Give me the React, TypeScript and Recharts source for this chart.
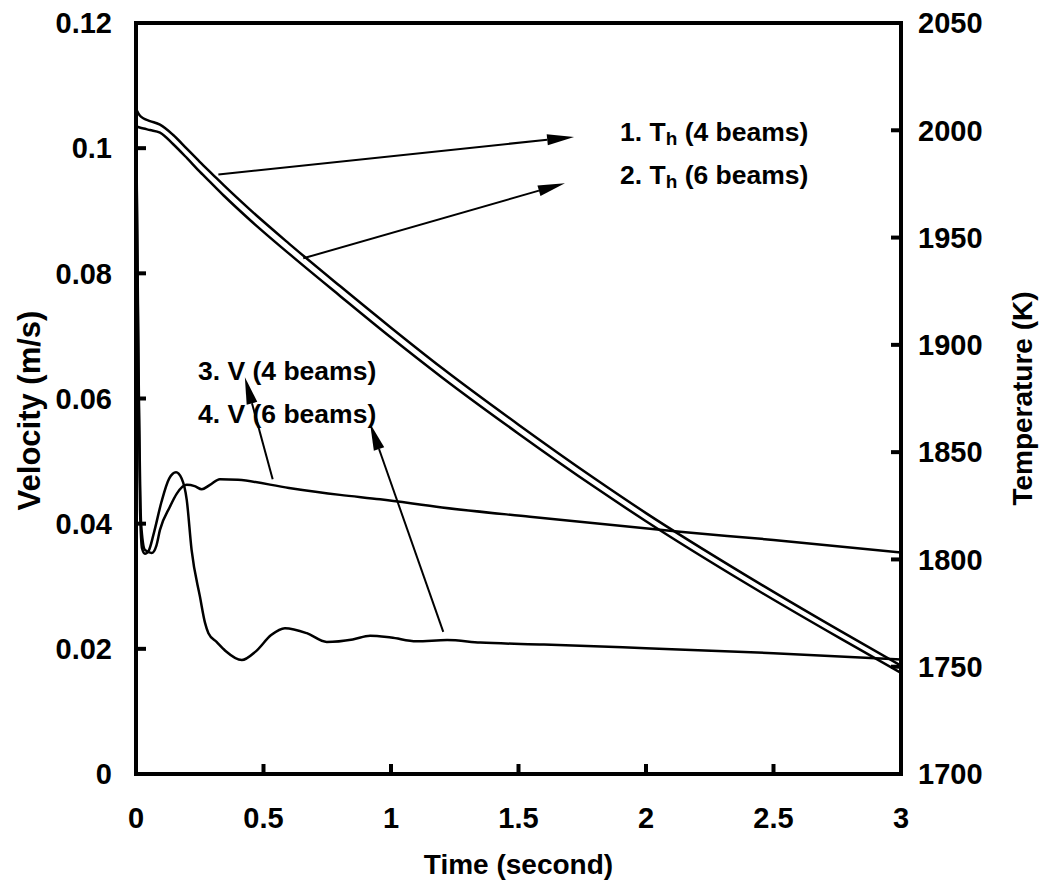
import { LineChart, Line, XAxis, YAxis, ReferenceLine, ReferenceDot } from "recharts";

const FONT = "'Liberation Sans', Arial, Helvetica, sans-serif";

// axis ticks
const timeTicks = [0, 0.5, 1, 1.5, 2, 2.5, 3];
const velTicks = [0, 0.02, 0.04, 0.06, 0.08, 0.1, 0.12];
const tempTicks = [1700, 1750, 1800, 1850, 1900, 1950, 2000, 2050];

// hot side temperature (K)
const tempTime = [0, 0.014, 0.03, 0.055, 0.094, 0.145, 0.2, 0.25, 0.3, 0.35, 0.447, 0.6, 0.8, 1.0, 1.2, 1.5, 1.8, 2.0, 2.4, 2.76, 3.0];
const tempFour = [2010, 2007, 2005.5, 2004.3, 2002.6, 1997.9, 1991.3, 1985.3, 1979.5, 1973.7, 1963.0, 1947.2, 1927.4, 1908.0, 1889.2, 1862.8, 1837.6, 1821.6, 1792.0, 1766.8, 1750.5];
const tempSix = [2001.8, 2001.3, 2000.8, 2000.1, 1998.9, 1993.6, 1987.0, 1980.7, 1974.8, 1968.9, 1958.2, 1942.5, 1922.8, 1903.4, 1884.8, 1858.6, 1833.6, 1817.8, 1788.3, 1763.3, 1747.1];

// velocity (m/s), 4 beams
const velTimeFour = [0, 0.01, 0.02, 0.035, 0.0615, 0.08, 0.094, 0.133, 0.16, 0.199, 0.23, 0.258, 0.29, 0.329, 0.4, 0.6, 0.8, 0.957, 1.2, 1.545, 2.133, 2.5, 3.0];
const velFour = [0.107, 0.065, 0.04, 0.0358, 0.0353, 0.0365, 0.039, 0.0427, 0.0448, 0.0462, 0.046, 0.0455, 0.0462, 0.0471, 0.047, 0.0457, 0.0446, 0.0439, 0.0426, 0.0411, 0.0387, 0.0374, 0.0354];

// velocity (m/s), 6 beams
const velTimeSix = [0, 0.008, 0.016, 0.024, 0.035, 0.05, 0.07, 0.1, 0.13, 0.157, 0.179, 0.199, 0.218, 0.251, 0.271, 0.284, 0.316, 0.35, 0.415, 0.47, 0.53, 0.584, 0.67, 0.748, 0.85, 0.918, 1.0, 1.1, 1.22, 1.35, 1.6, 2.0, 2.5, 3.0];
const velSix = [0.107, 0.07, 0.042, 0.036, 0.0352, 0.0357, 0.0385, 0.0435, 0.0472, 0.0482, 0.0472, 0.0438, 0.0358, 0.0283, 0.0241, 0.0225, 0.0211, 0.0197, 0.0182, 0.0196, 0.0222, 0.0233, 0.0225, 0.0211, 0.0215, 0.0221, 0.0218, 0.0212, 0.0214, 0.021, 0.0207, 0.0201, 0.0193, 0.0183];

// annotation arrows (time, velocity) and their labels
const arrows = [
  { from: { x: 0.323, y: 0.0958 }, to: { x: 1.718, y: 0.1018 } },
  { from: { x: 0.656, y: 0.0824 }, to: { x: 1.682, y: 0.0944 } },
  { from: { x: 0.536, y: 0.0471 }, to: { x: 0.427, y: 0.0634 } },
  { from: { x: 1.205, y: 0.0227 }, to: { x: 0.918, y: 0.056 } },
];
const notes = [
  { x: 1.898, y: 0.1026, num: "1.", sym: "T", sub: "h", rest: " (4 beams)" },
  { x: 1.898, y: 0.0957, num: "2.", sym: "T", sub: "h", rest: " (6 beams)" },
  { x: 0.243, y: 0.0644, num: "3.", sym: "V", sub: "", rest: " (4 beams)" },
  { x: 0.243, y: 0.0575, num: "4.", sym: "V", sub: "", rest: " (6 beams)" },
];

const zip = (ts: number[], vs: number[]) => ts.map((t, i) => ({ t, v: vs[i] }));

const TICK_LEN = 10;
const LEFT_GAP = 24;
const RIGHT_GAP = 17;
const BOTTOM_GAP = 33;

const tickTxt = { fontFamily: FONT, fontWeight: "bold" as const, fontSize: 29, fill: "#000" };
const titleTxt = { fontFamily: FONT, fontWeight: "bold" as const, fontSize: 28, fill: "#000" };

const LeftTick = ({ x, y, payload }: any) => (
  <g>
    <line x1={x + LEFT_GAP} x2={x + LEFT_GAP + TICK_LEN} y1={y} y2={y} stroke="#000" strokeWidth={4} />
    <text x={x} y={y} dy="0.355em" textAnchor="end" {...tickTxt}>{payload.value}</text>
  </g>
);

const RightTick = ({ x, y, payload }: any) => (
  <g>
    <line x1={x - RIGHT_GAP} x2={x - RIGHT_GAP - TICK_LEN} y1={y} y2={y} stroke="#000" strokeWidth={4} />
    <text x={x} y={y} dy="0.355em" textAnchor="start" {...tickTxt}>{payload.value}</text>
  </g>
);

const BottomTick = ({ x, y, payload }: any) => (
  <g>
    <line x1={x} x2={x} y1={y - BOTTOM_GAP} y2={y - BOTTOM_GAP - TICK_LEN} stroke="#000" strokeWidth={4} />
    <text x={x} y={y} dy="0.71em" textAnchor="middle" {...tickTxt}>{payload.value}</text>
  </g>
);

const Arrow = (p: any) => {
  const { x1, y1, x2, y2 } = p;
  const len = Math.hypot(x2 - x1, y2 - y1) || 1;
  const ux = (x2 - x1) / len;
  const uy = (y2 - y1) / len;
  const bx = x2 - ux * 27;
  const by = y2 - uy * 27;
  const nx = -uy * 5.5;
  const ny = ux * 5.5;
  return (
    <g>
      <line x1={x1} y1={y1} x2={bx} y2={by} stroke="#000" strokeWidth={2} />
      <polygon points={`${x2},${y2} ${bx + nx},${by + ny} ${bx - nx},${by - ny}`} fill="#000" />
    </g>
  );
};

const noteShape = (n: (typeof notes)[number]) => (p: any) => (
  <text x={p.cx} y={p.cy} dominantBaseline="central" fontFamily={FONT} fontWeight="bold" fontSize={26.5} fill="#000">
    {n.num} {n.sym}
    {n.sub ? (
      <>
        <tspan fontSize={19} dy={6}>{n.sub}</tspan>
        <tspan dy={-6}>{n.rest}</tspan>
      </>
    ) : (
      <tspan>{n.rest}</tspan>
    )}
  </text>
);

const VelTitle = ({ viewBox }: any) => {
  const cx = viewBox.x + 29;
  const cy = viewBox.y + viewBox.height / 2 + 12;
  return (
    <text x={cx} y={cy} transform={`rotate(-90 ${cx} ${cy})`} textAnchor="middle" dominantBaseline="central" {...titleTxt} fontSize={31}>
      Velocity (m/s)
    </text>
  );
};

const TempTitle = ({ viewBox }: any) => {
  const cx = viewBox.x + 121;
  const cy = viewBox.y + viewBox.height / 2;
  return (
    <text x={cx} y={cy} transform={`rotate(-90 ${cx} ${cy})`} textAnchor="middle" dominantBaseline="central" {...titleTxt}>
      Temperature (K)
    </text>
  );
};

const TimeTitle = ({ viewBox }: any) => (
  <text x={viewBox.x + viewBox.width / 2} y={viewBox.y + 90} textAnchor="middle" dominantBaseline="central" {...titleTxt}>
    Time (second)
  </text>
);

export default function App() {
  return (
    <div style={{ position: "absolute", left: 0, top: 0, background: "#fff" }}>
      <LineChart width={1040} height={886} margin={{ top: 23, right: 0, bottom: 0, left: 0 }}>
        <XAxis
          dataKey="t"
          type="number"
          domain={[0, 3]}
          ticks={timeTicks}
          allowDataOverflow
          height={112}
          tickSize={0}
          tickMargin={BOTTOM_GAP}
          tick={<BottomTick />}
          axisLine={{ stroke: "#000", strokeWidth: 4, strokeLinecap: "square" }}
          label={<TimeTitle />}
        />
        <YAxis
          yAxisId="v"
          orientation="left"
          type="number"
          domain={[0, 0.12]}
          ticks={velTicks}
          allowDataOverflow
          width={136}
          tickSize={0}
          tickMargin={LEFT_GAP}
          tick={<LeftTick />}
          axisLine={{ stroke: "#000", strokeWidth: 4, strokeLinecap: "square" }}
          label={<VelTitle />}
        />
        <YAxis
          yAxisId="T"
          orientation="right"
          type="number"
          domain={[1700, 2050]}
          ticks={tempTicks}
          allowDataOverflow
          width={139}
          tickSize={0}
          tickMargin={RIGHT_GAP}
          tick={<RightTick />}
          axisLine={{ stroke: "#000", strokeWidth: 4, strokeLinecap: "square" }}
          label={<TempTitle />}
        />
        <ReferenceLine yAxisId="v" y={0.12} stroke="#000" strokeWidth={4} strokeLinecap="square" />

        <Line yAxisId="T" data={zip(tempTime, tempFour)} dataKey="v" type="monotone" stroke="#000" strokeWidth={2.5} dot={false} isAnimationActive={false} />
        <Line yAxisId="T" data={zip(tempTime, tempSix)} dataKey="v" type="monotone" stroke="#000" strokeWidth={2.5} dot={false} isAnimationActive={false} />
        <Line yAxisId="v" data={zip(velTimeFour, velFour)} dataKey="v" type="monotone" stroke="#000" strokeWidth={2.5} dot={false} isAnimationActive={false} />
        <Line yAxisId="v" data={zip(velTimeSix, velSix)} dataKey="v" type="monotone" stroke="#000" strokeWidth={2.5} dot={false} isAnimationActive={false} />

        {arrows.map((a, i) => (
          <ReferenceLine key={`a${i}`} yAxisId="v" segment={[a.from, a.to]} shape={Arrow} />
        ))}
        {notes.map((n, i) => (
          <ReferenceDot key={`n${i}`} yAxisId="v" x={n.x} y={n.y} r={0} shape={noteShape(n)} />
        ))}
      </LineChart>
    </div>
  );
}
